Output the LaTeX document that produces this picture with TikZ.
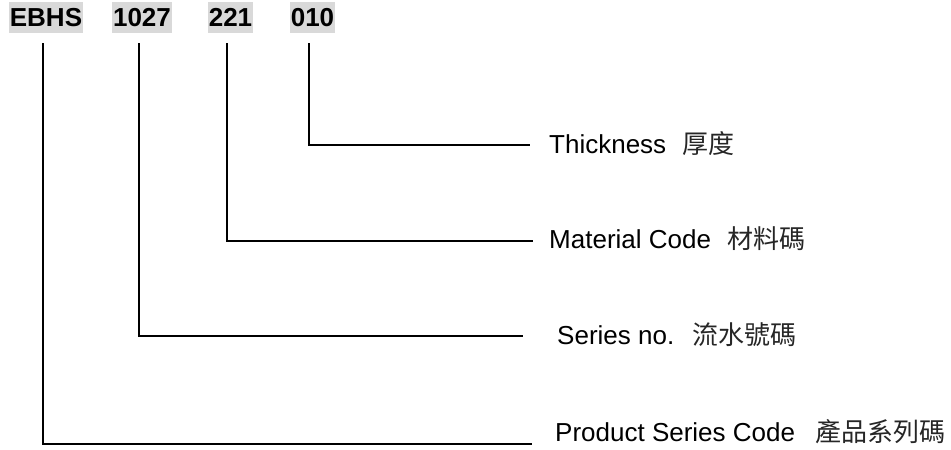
\documentclass[tikz,border=0pt]{standalone}
\usepackage{fontspec}
\setmainfont{Liberation Sans}
\newfontfamily\cjk{Noto Sans CJK TC}
\definecolor{codegray}{HTML}{D9D9D9}
\definecolor{cjkgray}{HTML}{262626}
\begin{document}
\begin{tikzpicture}[x=1pt,y=-1pt,
  codebox/.style={fill=codegray, inner sep=0pt, minimum height=31pt,
    font=\fontsize{26}{30}\selectfont\bfseries},
  lbl/.style={anchor=base west, inner sep=0pt, font=\fontsize{26}{30}\selectfont},
  conn/.style={line width=1.8pt, draw=black}]
\useasboundingbox (0,0) rectangle (951,450);
% code boxes
\node[codebox, minimum width=74pt] (ebhs) at (46,17.5) {EBHS};
\node[codebox, minimum width=60pt] (n1027) at (142,17.5) {1027};
\node[codebox, minimum width=45pt] (n221) at (230.5,17.5) {221};
\node[codebox, minimum width=45pt] (n010) at (312.5,17.5) {010};
% labels
\node[lbl] (thick) at (549,153) {Thickness\hspace{16pt}{\cjk\color{cjkgray}厚度}};
\node[lbl] (mat) at (549,248) {Material Code\hspace{16pt}{\cjk\color{cjkgray}材料碼}};
\node[lbl] (ser) at (557,344) {Series no.\hspace{18pt}{\cjk\color{cjkgray}流水號碼}};
\node[lbl] (prod) at (555,441) {Product Series Code\hspace{20pt}{\cjk\color{cjkgray}產品系列碼}};
% connector ends
\coordinate (s010) at (309,43);
\coordinate (s221) at (227,43);
\coordinate (s1027) at (139,43);
\coordinate (sebhs) at (43,43);
\coordinate (e010) at (530,145);
\coordinate (e221) at (533,241);
\coordinate (e1027) at (523,336);
\coordinate (eebhs) at (532,444);
\draw[conn] (s010) |- (e010);
\draw[conn] (s221) |- (e221);
\draw[conn] (s1027) |- (e1027);
\draw[conn] (sebhs) |- (eebhs);
\end{tikzpicture}
\end{document}
